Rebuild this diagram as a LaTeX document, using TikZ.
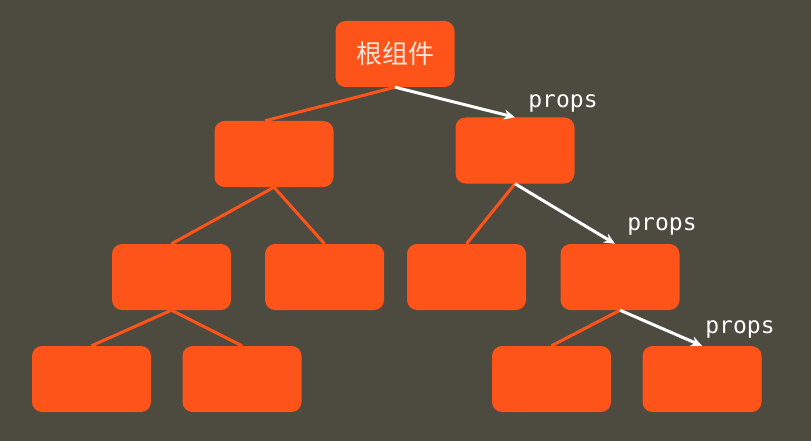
\documentclass[tikz,border=0pt]{standalone}
\usepackage{fontspec}
\setmonofont{DejaVu Sans Mono}
\newfontfamily\cjk{Noto Sans CJK SC}
\usetikzlibrary{arrows.meta, positioning}

\definecolor{bgolive}{HTML}{4D4A40}
\definecolor{boxorange}{HTML}{FF5419}
\definecolor{rootfont}{HTML}{FFE6DC}

\tikzset{
  comp/.style={fill=boxorange, rounded corners=10pt, minimum width=119pt, minimum height=66pt, inner sep=0pt},
  link/.style={draw=boxorange, line width=3pt},
  pass/.style={draw=white, line width=3pt, -{Stealth[length=11pt, width=10pt]}},
  lbl/.style={text=white, font=\ttfamily\fontsize{23}{25}\selectfont}
}

\begin{document}
\begin{tikzpicture}[x=1pt, y=-1pt]
            \fill[bgolive] (0,0) rectangle (811,441);
            \useasboundingbox (0,0) rectangle (811,441);
            % components
            \node[comp, text=rootfont, font=\cjk\fontsize{26}{28}\selectfont] (root) at (395,54) {根组件};
            \node[comp] (a1) at (274,154) {};
            \node[comp] (a2) at (515,150.5) {};
            \node[comp] (b1) at (171.5,277) {};
            \node[comp] (b2) at (324.5,277) {};
            \node[comp] (b3) at (466.5,277) {};
            \node[comp] (b4) at (620,277) {};
            \node[comp] (c1) at (91.5,379) {};
            \node[comp] (c2) at (242,379) {};
            \node[comp] (c3) at (551.5,379) {};
            \node[comp] (c4) at (702,379) {};
            % tree
            \draw[link] (root.south) -- ([xshift=-9pt]a1.north);
            \draw[link] (a1.south) -- (b1.north);
            \draw[link] (a1.south) -- (b2.north);
            \draw[link] (a2.south) -- (b3.north);
            \draw[link] (b1.south) -- (c1.north);
            \draw[link] (b1.south) -- (c2.north);
            \draw[link] (b4.south) -- (c3.north);
            % props path
            \draw[pass] (root.south) -- (a2.north);
            \draw[pass] (a2.south) -- ([xshift=-5pt]b4.north);
            \draw[pass] (b4.south) -- (c4.north);
            \node[lbl] (p1) at (563,103) {props};
            \node[lbl] (p2) at (662,226) {props};
            \node[lbl] (p3) at (740,329) {props};
\end{tikzpicture}
\end{document}
